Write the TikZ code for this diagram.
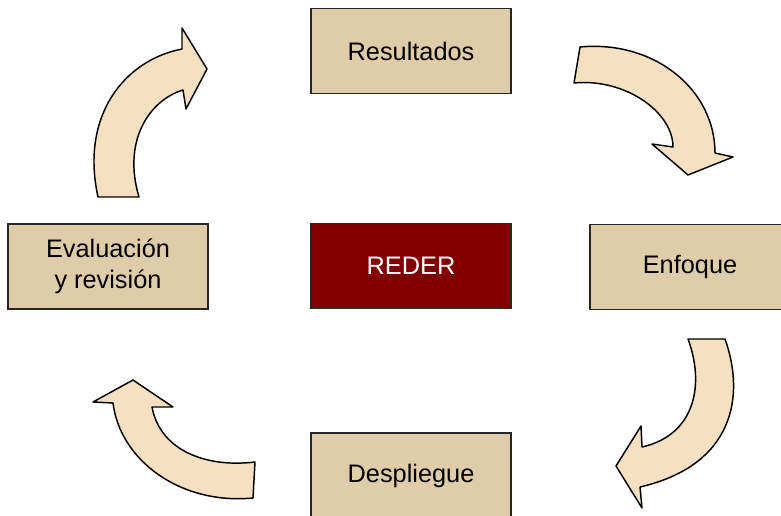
\documentclass[tikz,border=0pt]{standalone}
\usepackage{fontspec}
\setmainfont{Liberation Sans}
\usepackage{tikz}
\usetikzlibrary{positioning}
\definecolor{boxtan}{RGB}{223,205,170}
\definecolor{arrowcream}{RGB}{245,225,193}
\definecolor{rederred}{RGB}{128,0,0}

\tikzset{
  stagebox/.style={draw=black!85, line width=1.3pt, fill=boxtan,
    minimum width=150pt, minimum height=63.75pt, align=center,
    font=\fontsize{19}{23}\selectfont},
  bentarrow/.style={draw=black, line width=1.1pt, fill=arrowcream, line join=round}
}

\begin{document}
\begin{tikzpicture}[x=0.75pt, y=-0.75pt]
            \useasboundingbox (0,0) rectangle (781,516);

            % Centre box
            \node[stagebox, fill=rederred, text=white] (reder) at (411,266) {REDER};

            % The four stages
            \node[stagebox] (resultados) at (411,51) {Resultados};
            \node[stagebox] (enfoque) at (690,267) {Enfoque};
            \node[stagebox] (despliegue) at (411,475.5) {Despliegue};
            \node[stagebox] (evaluacion) at (108,266.5) {Evaluación\\y revisión};

            % Curved arrow: Resultados to Enfoque
            \draw[bentarrow] (580,47) .. controls (655,40) and (715,90) .. (715,153)
                -- (733,157) -- (688,175) -- (652,144) -- (673,147)
                .. controls (673,112) and (625,78) .. (574,83) -- cycle;

            % Curved arrow: Enfoque to Despliegue
            \draw[bentarrow] (725,339) .. controls (745,395) and (735,465) .. (640,487)
                -- (642,508) -- (616,466) -- (641,426) -- (642,447)
                .. controls (695,435) and (705,385) .. (688,339) -- cycle;

            % Curved arrow: Despliegue to Evaluacion
            \draw[bentarrow] (253,498) .. controls (180,505) and (120,460) .. (113,403)
                -- (93,402) -- (133,380) -- (173,407) -- (152,407)
                .. controls (160,450) and (205,468) .. (255,462) -- cycle;

            % Curved arrow: Evaluacion to Resultados
            \draw[bentarrow] (98,197) .. controls (80,115) and (125,60) .. (182,49)
                -- (182,28) -- (207,69) -- (186,109) -- (183,90)
                .. controls (150,100) and (122,140) .. (139,197) -- cycle;
        \end{tikzpicture}
\end{document}
